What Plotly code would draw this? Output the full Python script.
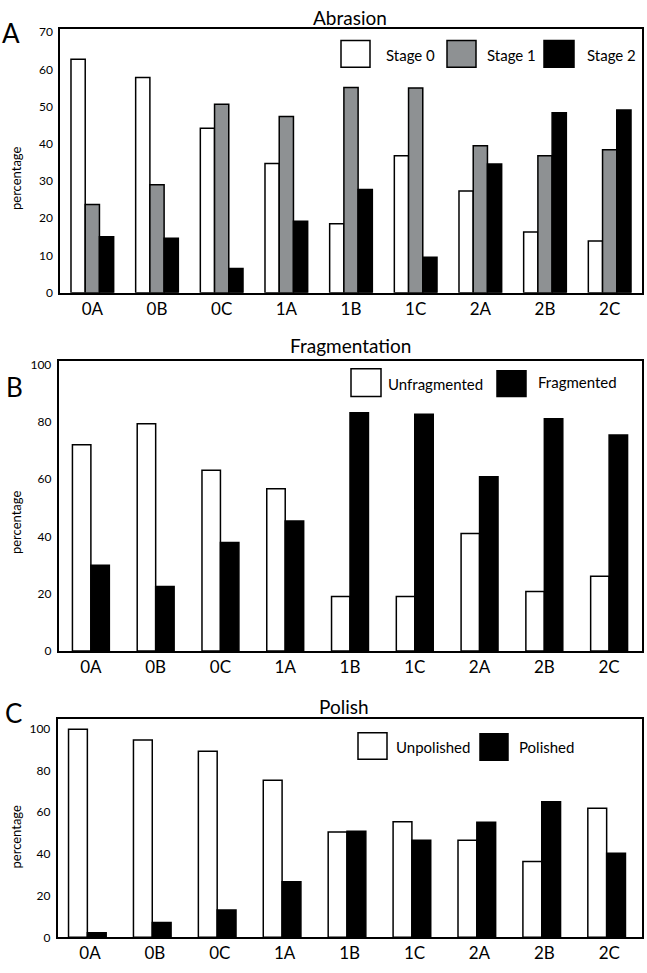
import plotly.graph_objects as go

W, H = 647, 973

categories = ["0A", "0B", "0C", "1A", "1B", "1C", "2A", "2B", "2C"]

# Panel A - Abrasion
abr_stage0 = [62.7, 57.8, 44.2, 34.7, 18.5, 36.8, 27.3, 16.3, 13.9]
abr_stage1 = [23.7, 29.0, 50.6, 47.3, 55.1, 55.0, 39.5, 36.8, 38.4]
abr_stage2 = [15.0, 14.6, 6.5, 19.2, 27.7, 9.5, 34.6, 48.3, 49.1]

# Panel B - Fragmentation
frag_unfrag = [72.0, 79.3, 63.1, 56.6, 19.0, 19.0, 41.0, 20.8, 26.1]
frag_frag = [29.9, 22.5, 37.9, 45.4, 83.1, 82.6, 60.8, 81.0, 75.4]

# Panel C - Polish
pol_unpol = [99.8, 94.6, 89.2, 75.3, 50.5, 55.4, 46.5, 36.4, 61.9]
pol_pol = [2.2, 7.1, 13.1, 26.6, 50.9, 46.5, 55.2, 65.0, 40.3]

FONT = "Lato"
GRAY = "#8e9193"

def px(x):
    return x / W

def py(y):
    return 1 - y / H

fig = go.Figure()

def add_bar(x, y, color, xa, ya, width, offset, name):
    fig.add_trace(go.Bar(
        x=x, y=y, name=name, xaxis=xa, yaxis=ya,
        marker=dict(color=color, line=dict(color="black", width=1.5)),
        width=width, offset=offset, showlegend=False,
    ))

# A
add_bar(categories, abr_stage0, "white", "x", "y", 0.22, -0.33, "Stage 0")
add_bar(categories, abr_stage1, GRAY, "x", "y", 0.22, -0.11, "Stage 1")
add_bar(categories, abr_stage2, "black", "x", "y", 0.22, 0.11, "Stage 2")
# B
add_bar(categories, frag_unfrag, "white", "x2", "y2", 0.285, -0.285, "Unfragmented")
add_bar(categories, frag_frag, "black", "x2", "y2", 0.285, 0.0, "Fragmented")
# C
add_bar(categories, pol_unpol, "white", "x3", "y3", 0.29, -0.33, "Unpolished")
add_bar(categories, pol_pol, "black", "x3", "y3", 0.29, -0.04, "Polished")

def xaxis(domain):
    return dict(domain=domain, showline=True, mirror=True, linecolor="black", linewidth=1.5,
                ticks="", showgrid=False, zeroline=False,
                tickfont=dict(family=FONT, size=17, color="black"), ticklabelstandoff=0)

def yaxis(domain, rng, dtick):
    return dict(domain=domain, range=rng, dtick=dtick, showline=True, mirror=True,
                linecolor="black", linewidth=1.5, ticks="", showgrid=False, zeroline=False,
                tickfont=dict(family=FONT, size=12, color="black"), ticklabelstandoff=3)

fig.update_layout(
    width=W, height=H, margin=dict(l=0, r=0, t=0, b=0),
    paper_bgcolor="white", plot_bgcolor="white", barmode="overlay",
    xaxis=xaxis([px(60), px(642)]),
    yaxis=yaxis([py(292), py(25)], [0, 70.9], 10),
    xaxis2=xaxis([px(58.5), px(641.5)]),
    yaxis2=dict(yaxis([py(654.5), py(361)], [0, 101.2], 20), anchor="x2"),
    xaxis3=xaxis([px(57.5), px(641.7)]),
    yaxis3=dict(yaxis([py(944), py(723.3)], [0, 104.6], 20), anchor="x3"),
)
fig.layout.xaxis2.anchor = "y2"
fig.layout.xaxis3.anchor = "y3"

ann = []
shapes = []

def text(x, y, s, size, anchor="center", angle=0):
    ann.append(dict(x=px(x), y=py(y), xref="paper", yref="paper", text=s, showarrow=False,
                    xanchor=anchor, yanchor="middle", textangle=angle,
                    font=dict(family=FONT, size=size, color="black")))

def box(x0, y0, x1, y1, color):
    shapes.append(dict(type="rect", xref="paper", yref="paper", x0=px(x0), x1=px(x1),
                       y0=py(y1), y1=py(y0), fillcolor=color,
                       line=dict(color="black", width=1.5)))

# titles
text(350, 14, "Abrasion", 19)
text(350, 345, "Fragmentation", 19)
text(344, 711, "Polish", 19)
# panel letters
text(11, 29, "A", 26)
text(14, 387, "B", 26)
text(13, 717, "C", 26)
# y titles
text(16, 176, "percentage", 13, angle=-90)
text(16, 524, "percentage", 13, angle=-90)
text(16, 842, "percentage", 13, angle=-90)

# legends
box(341, 37, 370, 64, "white"); text(384, 52, "Stage 0", 15, "left")
box(447, 37, 476, 64, GRAY); text(485, 52, "Stage 1", 15, "left")
box(544, 37, 574, 64, "black"); text(585, 52, "Stage 2", 15, "left")

box(351, 369, 381, 397, "white"); text(386, 384, "Unfragmented", 15, "left")
box(497, 371, 526, 397, "black"); text(536, 382, "Fragmented", 15, "left")

box(358, 737, 387, 764, "white"); text(394, 751, "Unpolished", 15, "left")
box(480, 738, 508, 765, "black"); text(517, 752, "Polished", 15, "left")

fig.update_layout(annotations=ann, shapes=shapes)
fig.write_html("out.html", config={"displayModeBar": False},
               post_script="document.body.style.margin='0';document.body.style.overflow='hidden';")
